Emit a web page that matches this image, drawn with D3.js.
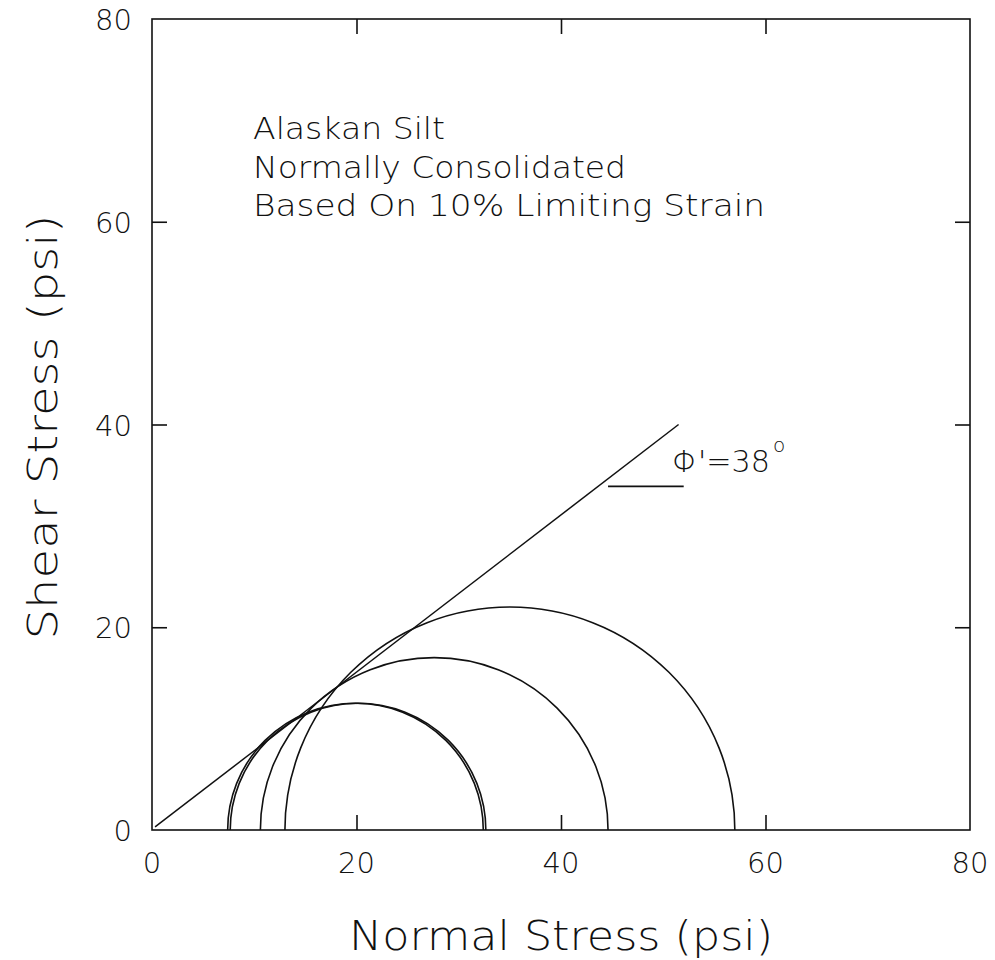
<!DOCTYPE html>
<html>
<head>
<meta charset="utf-8">
<script src="https://cdn.jsdelivr.net/npm/d3@7"></script>
<style>
  html, body { margin: 0; padding: 0; background: #fff; }
  svg text { font-family: "DejaVu Sans", sans-serif; font-weight: 200; fill: #111; }
</style>
</head>
<body>
<svg id="chart" width="995" height="960"></svg>
<script>
// Mohr circles at failure (normal stress endpoints, psi)
const circleLeft  = [7.4, 7.65, 10.6, 13.0];
const circleRight = [32.4, 32.65, 44.6, 57.0];

// Failure envelope end points (normal stress, shear stress)
const envelope = [[0.3, 0.3], [51.5, 40.0]];
// Short reference mark under the friction-angle label
const angleMark = [[44.6, 33.9], [52.0, 33.9]];

const xTicks = [0, 20, 40, 60, 80];
const yTicks = [0, 20, 40, 60, 80];
const noteLines = ["Alaskan Silt", "Normally Consolidated", "Based On 10% Limiting Strain"];
const noteWidths = [192, 373, 512];
const phiLabel = "\u03A6'=38";

const svg = d3.select("#chart");
const plotL = 152, plotR = 970, plotT = 19, plotB = 830;

const x = d3.scaleLinear().domain([0, 80]).range([plotL, plotR]);
const y = d3.scaleLinear().domain([0, 80]).range([plotB, plotT]);

const g = svg.append("g");

// Frame
g.append("rect")
  .attr("x", plotL).attr("y", plotT)
  .attr("width", plotR - plotL).attr("height", plotB - plotT)
  .attr("fill", "none").attr("stroke", "#111").attr("stroke-width", 1.6);

// Inward ticks on all four sides
const tickLen = 15;
const innerX = xTicks.slice(1, -1);
const innerY = yTicks.slice(1, -1);
g.append("g").attr("transform", `translate(0,${plotB})`)
  .call(d3.axisBottom(x).tickValues(innerX).tickSizeInner(-tickLen).tickSizeOuter(0).tickFormat(""));
g.append("g").attr("transform", `translate(0,${plotT})`)
  .call(d3.axisTop(x).tickValues(innerX).tickSizeInner(-tickLen).tickSizeOuter(0).tickFormat(""));
g.append("g").attr("transform", `translate(${plotL},0)`)
  .call(d3.axisLeft(y).tickValues(innerY).tickSizeInner(-tickLen).tickSizeOuter(0).tickFormat(""));
g.append("g").attr("transform", `translate(${plotR},0)`)
  .call(d3.axisRight(y).tickValues(innerY).tickSizeInner(-tickLen).tickSizeOuter(0).tickFormat(""));
g.selectAll(".domain").remove();
g.selectAll(".tick line").attr("stroke", "#111").attr("stroke-width", 1.6);

// Tick labels
svg.append("g").selectAll("text").data(xTicks).join("text")
  .attr("x", d => x(d)).attr("y", plotB + 43)
  .attr("text-anchor", "middle").attr("font-size", 29)
  .text(d => d);
svg.append("g").selectAll("text").data(yTicks).join("text")
  .attr("x", plotL - 20).attr("y", d => y(d) + 11)
  .attr("text-anchor", "end").attr("font-size", 29)
  .text(d => d);

// Axis titles
svg.append("text")
  .attr("x", x(40)).attr("y", 950)
  .attr("text-anchor", "middle").attr("font-size", 41)
  .attr("textLength", 424).attr("lengthAdjust", "spacingAndGlyphs")
  .text("Normal Stress (psi)");
svg.append("text")
  .attr("transform", "translate(57,427) rotate(-90)")
  .attr("text-anchor", "middle").attr("font-size", 41)
  .attr("textLength", 425).attr("lengthAdjust", "spacingAndGlyphs")
  .text("Shear Stress (psi)");

// Failure envelope
const line = d3.line().x(d => x(d[0])).y(d => y(d[1]));
svg.append("path").datum(envelope).attr("d", line)
  .attr("fill", "none").attr("stroke", "#111").attr("stroke-width", 1.5);
svg.append("path").datum(angleMark).attr("d", line)
  .attr("fill", "none").attr("stroke", "#111").attr("stroke-width", 1.8);

// Mohr semicircles
const circles = circleLeft.map((a, i) => ({ a, b: circleRight[i] }));
svg.append("g").selectAll("path").data(circles).join("path")
  .attr("d", d => {
    const r = (d.b - d.a) / 2;
    const rx = x(r) - x(0), ry = y(0) - y(r);
    return `M${x(d.a)},${y(0)} A${rx},${ry} 0 0 1 ${x(d.b)},${y(0)}`;
  })
  .attr("fill", "none").attr("stroke", "#111").attr("stroke-width", 1.6);

// Friction angle label
const phi = svg.append("text").attr("x", 672).attr("y", 472).attr("font-size", 31);
phi.append("tspan").attr("textLength", 98).attr("lengthAdjust", "spacingAndGlyphs").text(phiLabel);
phi.append("tspan").attr("font-size", 20).attr("dy", -20).attr("dx", 3).text("o");

// Notes
svg.append("g").selectAll("text").data(noteLines).join("text")
  .attr("x", 253).attr("y", (d, i) => 139 + i * 38.5)
  .attr("font-size", 31)
  .attr("textLength", (d, i) => noteWidths[i]).attr("lengthAdjust", "spacingAndGlyphs")
  .text(d => d);
</script>
</body>
</html>
